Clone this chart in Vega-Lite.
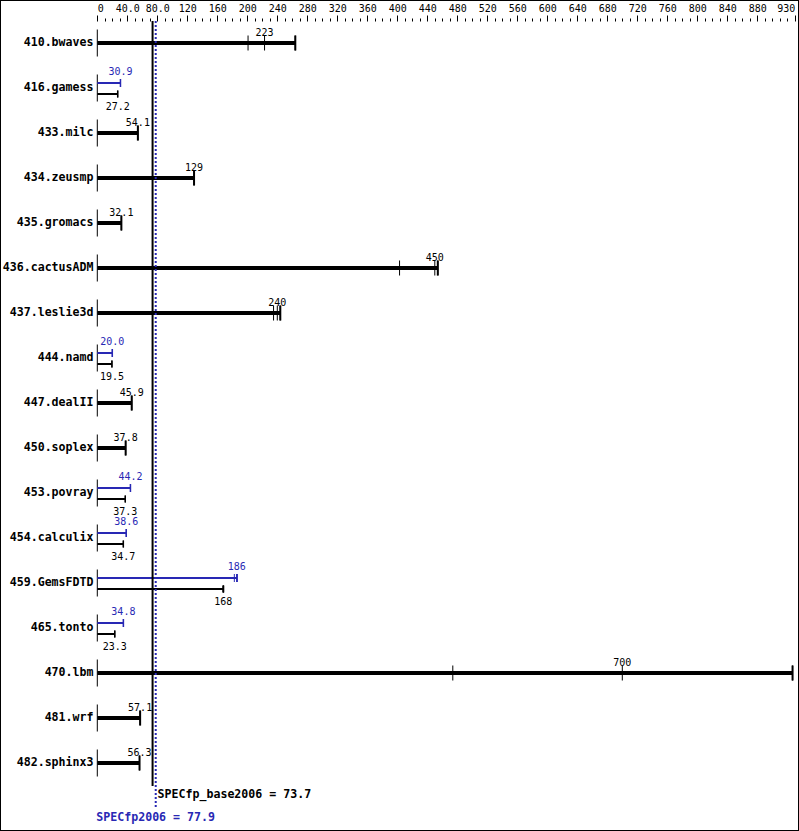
{
  "$schema": "https://vega.github.io/schema/vega-lite/v6.json",
  "width": 799,
  "height": 831,
  "autosize": "none",
  "padding": 0,
  "background": "white",
  "config": {
    "view": {"stroke": "black", "strokeWidth": 2},
    "font": "DejaVu Sans Mono"
  },
  "resolve": {"axis": {"x": "independent"}},
  "data": {
    "values": [
      {"b": "410.bwaves", "k": "both", "v": 201},
      {"b": "410.bwaves", "k": "both", "v": 223},
      {"b": "410.bwaves", "k": "both", "v": 264},
      {"b": "416.gamess", "k": "peak", "v": 30.9},
      {"b": "416.gamess", "k": "base", "v": 27.2},
      {"b": "433.milc", "k": "both", "v": 54.1},
      {"b": "434.zeusmp", "k": "both", "v": 129},
      {"b": "435.gromacs", "k": "both", "v": 32.1},
      {"b": "436.cactusADM", "k": "both", "v": 403},
      {"b": "436.cactusADM", "k": "both", "v": 450},
      {"b": "436.cactusADM", "k": "both", "v": 454},
      {"b": "437.leslie3d", "k": "both", "v": 235},
      {"b": "437.leslie3d", "k": "both", "v": 240},
      {"b": "437.leslie3d", "k": "both", "v": 244},
      {"b": "444.namd", "k": "peak", "v": 20.0},
      {"b": "444.namd", "k": "base", "v": 19.5},
      {"b": "447.dealII", "k": "both", "v": 45.9},
      {"b": "450.soplex", "k": "both", "v": 37.8},
      {"b": "453.povray", "k": "peak", "v": 44.2},
      {"b": "453.povray", "k": "base", "v": 37.3},
      {"b": "454.calculix", "k": "peak", "v": 38.6},
      {"b": "454.calculix", "k": "base", "v": 34.7},
      {"b": "459.GemsFDTD", "k": "peak", "v": 182.7},
      {"b": "459.GemsFDTD", "k": "peak", "v": 186},
      {"b": "459.GemsFDTD", "k": "peak", "v": 186.3},
      {"b": "459.GemsFDTD", "k": "base", "v": 167.4},
      {"b": "459.GemsFDTD", "k": "base", "v": 168},
      {"b": "459.GemsFDTD", "k": "base", "v": 168.3},
      {"b": "465.tonto", "k": "peak", "v": 34.8},
      {"b": "465.tonto", "k": "base", "v": 23.3},
      {"b": "470.lbm", "k": "both", "v": 474},
      {"b": "470.lbm", "k": "both", "v": 700},
      {"b": "470.lbm", "k": "both", "v": 927},
      {"b": "481.wrf", "k": "both", "v": 57.1},
      {"b": "482.sphinx3", "k": "both", "v": 56.3}
    ]
  },
  "layer": [
    {
      "transform": [{"aggregate": [{"op": "count", "as": "n"}], "groupby": ["b"]}],
      "mark": {"type": "tick", "orient": "vertical", "size": 27, "thickness": 1, "color": "black", "opacity": 1},
      "encoding": {
        "x": {
          "datum": 0,
          "type": "quantitative",
          "scale": {"domain": [0, 930], "range": [97.3, 794.8], "nice": false, "zero": false},
          "axis": {
            "orient": "top",
            "offset": -21,
            "title": null,
            "domain": false,
            "grid": false,
            "values": [0,40,80,120,160,200,240,280,320,360,400,440,480,520,560,600,640,680,720,760,800,840,880,930],
            "labelExpr": "datum.value == 0 ? '0' : format(datum.value, '.3r')",
            "labelOverlap": false,
            "labelAlign": {"condition": [{"test": "datum.value == 0", "value": "left"}, {"test": "datum.value == 930", "value": "right"}], "value": "center"},
            "labelFont": "DejaVu Sans Mono",
            "labelFontSize": 10,
            "labelColor": "black",
            "labelPadding": 2,
            "tickColor": "black",
            "tickWidth": 1,
            "tickSize": 6
          }
        },
        "y": {
          "field": "b",
          "type": "nominal",
          "title": null,
          "scale": {
            "domain": ["410.bwaves","416.gamess","433.milc","434.zeusmp","435.gromacs","436.cactusADM","437.leslie3d","444.namd","447.dealII","450.soplex","453.povray","454.calculix","459.GemsFDTD","465.tonto","470.lbm","481.wrf","482.sphinx3"],
            "range": [20.5, 785.5],
            "paddingInner": 0,
            "paddingOuter": 0
          },
          "axis": {
            "orient": "left",
            "offset": -95,
            "title": null,
            "domain": false,
            "ticks": false,
            "labelPadding": 2,
            "labelFont": "DejaVu Sans Mono",
            "labelFontWeight": "bold",
            "labelFontSize": 11.6,
            "labelColor": "black"
          }
        }
      }
    },
    {
      "transform": [{"filter": "datum.k == 'both'"}],
      "mark": {"type": "tick", "orient": "vertical", "size": 15, "thickness": 1, "color": "black", "opacity": 1},
      "encoding": {
        "x": {
          "field": "v",
          "type": "quantitative",
          "title": null,
          "axis": {
            "orient": "top",
            "offset": -21,
            "title": null,
            "domain": false,
            "grid": false,
            "labels": false,
            "values": [10,20,30,50,60,70,90,100,110,130,140,150,170,180,190,210,220,230,250,260,270,290,300,310,330,340,350,370,380,390,410,420,430,450,460,470,490,500,510,530,540,550,570,580,590,610,620,630,650,660,670,690,700,710,730,740,750,770,780,790,810,820,830,850,860,870,890,900,910,920],
            "tickColor": "black",
            "tickWidth": 1,
            "tickSize": 3
          }
        },
        "y": {"field": "b", "type": "nominal", "title": null}
      }
    },
    {
      "layer": [
        {
          "transform": [{"aggregate": [{"op": "max", "field": "v", "as": "mx"}, {"op": "median", "field": "v", "as": "med"}], "groupby": ["b", "k"]}],
          "layer": [
            {
              "transform": [{"filter": "datum.k == 'both'"}],
              "layer": [
                {
                  "mark": {"type": "bar", "orient": "horizontal", "size": 4, "color": "black"},
                  "encoding": {
                    "x": {"field": "mx", "type": "quantitative", "axis": null},
                    "y": {"field": "b", "type": "nominal", "title": null}
                  }
                },
                {
                  "mark": {"type": "tick", "orient": "vertical", "size": 15, "thickness": 2, "color": "black", "opacity": 1},
                  "encoding": {
                    "x": {"field": "mx", "type": "quantitative", "axis": null},
                    "y": {"field": "b", "type": "nominal", "title": null}
                  }
                },
                {
                  "mark": {"type": "text", "font": "DejaVu Sans Mono", "fontSize": 10, "color": "black", "align": "center", "baseline": "alphabetic", "dy": -7},
                  "encoding": {
                    "x": {"field": "med", "type": "quantitative", "axis": null},
                    "y": {"field": "b", "type": "nominal", "title": null},
                    "text": {"field": "med", "type": "quantitative", "format": ".3r"}
                  }
                }
              ]
            },
            {
              "transform": [{"filter": "datum.k == 'peak'"}],
              "layer": [
                {
                  "mark": {"type": "bar", "orient": "horizontal", "size": 2, "color": "#2828b4", "yOffset": -5},
                  "encoding": {
                    "x": {"field": "mx", "type": "quantitative", "axis": null},
                    "y": {"field": "b", "type": "nominal", "title": null}
                  }
                },
                {
                  "mark": {"type": "tick", "orient": "vertical", "size": 8, "thickness": 1.5, "color": "#2828b4", "opacity": 1, "yOffset": -5},
                  "encoding": {
                    "x": {"field": "mx", "type": "quantitative", "axis": null},
                    "y": {"field": "b", "type": "nominal", "title": null}
                  }
                },
                {
                  "mark": {"type": "text", "font": "DejaVu Sans Mono", "fontSize": 10, "color": "#2828b4", "align": "center", "baseline": "alphabetic", "dy": -13},
                  "encoding": {
                    "x": {"field": "med", "type": "quantitative", "axis": null},
                    "y": {"field": "b", "type": "nominal", "title": null},
                    "text": {"field": "med", "type": "quantitative", "format": ".3r"}
                  }
                }
              ]
            },
            {
              "transform": [{"filter": "datum.k == 'base'"}],
              "layer": [
                {
                  "mark": {"type": "bar", "orient": "horizontal", "size": 2, "color": "black", "yOffset": 6},
                  "encoding": {
                    "x": {"field": "mx", "type": "quantitative", "axis": null},
                    "y": {"field": "b", "type": "nominal", "title": null}
                  }
                },
                {
                  "mark": {"type": "tick", "orient": "vertical", "size": 7, "thickness": 1.5, "color": "black", "opacity": 1, "yOffset": 6},
                  "encoding": {
                    "x": {"field": "mx", "type": "quantitative", "axis": null},
                    "y": {"field": "b", "type": "nominal", "title": null}
                  }
                },
                {
                  "mark": {"type": "text", "font": "DejaVu Sans Mono", "fontSize": 10, "color": "black", "align": "center", "baseline": "alphabetic", "dy": 22},
                  "encoding": {
                    "x": {"field": "med", "type": "quantitative", "axis": null},
                    "y": {"field": "b", "type": "nominal", "title": null},
                    "text": {"field": "med", "type": "quantitative", "format": ".3r"}
                  }
                }
              ]
            }
          ]
        },
        {
          "transform": [{"filter": "datum.k == 'peak'"}],
          "mark": {"type": "tick", "orient": "vertical", "size": 8, "thickness": 1, "color": "#2828b4", "opacity": 1, "yOffset": -5},
          "encoding": {
            "x": {"field": "v", "type": "quantitative", "axis": null},
            "y": {"field": "b", "type": "nominal", "title": null}
          }
        },
        {
          "transform": [{"filter": "datum.k == 'base'"}],
          "mark": {"type": "tick", "orient": "vertical", "size": 7, "thickness": 1, "color": "black", "opacity": 1, "yOffset": 6},
          "encoding": {
            "x": {"field": "v", "type": "quantitative", "axis": null},
            "y": {"field": "b", "type": "nominal", "title": null}
          }
        },
        {
          "data": {"values": [
            {"metric": "SPECfp_base2006", "score": 73.7, "caption": "SPECfp_base2006 = 73.7", "first": "410.bwaves", "last": "482.sphinx3"},
            {"metric": "SPECfp2006", "score": 77.9, "caption": "SPECfp2006 = 77.9", "first": "410.bwaves", "last": "482.sphinx3"}
          ]},
          "layer": [
            {
              "transform": [{"filter": "datum.metric == 'SPECfp_base2006'"}],
              "layer": [
                {
                  "mark": {"type": "rule", "strokeWidth": 2, "color": "black", "yOffset": -22, "y2Offset": 23},
                  "encoding": {
                    "x": {"field": "score", "type": "quantitative", "axis": null},
                    "y": {"field": "first", "type": "nominal", "title": null},
                    "y2": {"field": "last"}
                  }
                },
                {
                  "mark": {"type": "text", "font": "DejaVu Sans Mono", "fontWeight": "bold", "fontSize": 11.6, "color": "black", "align": "left", "baseline": "alphabetic", "dx": 5, "dy": 35},
                  "encoding": {
                    "x": {"field": "score", "type": "quantitative", "axis": null},
                    "y": {"field": "last", "type": "nominal", "title": null},
                    "text": {"field": "caption", "type": "nominal"}
                  }
                }
              ]
            },
            {
              "transform": [{"filter": "datum.metric == 'SPECfp2006'"}],
              "layer": [
                {
                  "mark": {"type": "rule", "strokeWidth": 2, "color": "#2828b4", "strokeDash": [2, 2], "yOffset": -22, "y2Offset": 45},
                  "encoding": {
                    "x": {"field": "score", "type": "quantitative", "axis": null},
                    "y": {"field": "first", "type": "nominal", "title": null},
                    "y2": {"field": "last"}
                  }
                },
                {
                  "mark": {"type": "text", "font": "DejaVu Sans Mono", "fontWeight": "bold", "fontSize": 11.6, "color": "#2828b4", "align": "left", "baseline": "alphabetic", "dx": -1, "dy": 58},
                  "encoding": {
                    "x": {"datum": 0, "type": "quantitative", "axis": null},
                    "y": {"field": "last", "type": "nominal", "title": null},
                    "text": {"field": "caption", "type": "nominal"}
                  }
                }
              ]
            }
          ]
        }
      ]
    }
  ]
}
